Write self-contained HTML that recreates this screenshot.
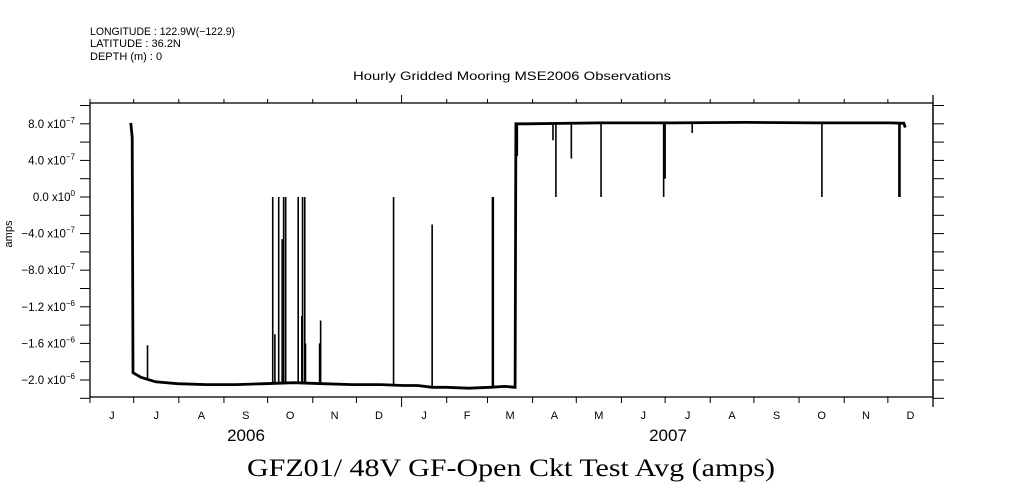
<!DOCTYPE html>
<html><head><meta charset="utf-8"><style>
html,body{margin:0;padding:0;background:#fff;}
svg{display:block;font-family:"Liberation Sans",sans-serif;}
</style></head><body>
<svg id="chart" width="1009" height="504" viewBox="0 0 1009 504" xmlns="http://www.w3.org/2000/svg">
<g font-size="11" fill="#000">
<text x="90" y="35" textLength="145" lengthAdjust="spacingAndGlyphs">LONGITUDE : 122.9W(−122.9)</text>
<text x="90" y="47">LATITUDE : 36.2N</text>
<text x="90" y="60">DEPTH (m) : 0</text>
</g>
<text x="353" y="80" textLength="318" lengthAdjust="spacingAndGlyphs" font-size="12">Hourly Gridded Mooring MSE2006 Observations</text>
<text x="0" y="0" transform="translate(12,234) rotate(-90)" text-anchor="middle" font-size="11">amps</text>
<g id="axes"></g>
<g id="marks"></g>
<text x="246" y="441" text-anchor="middle" font-size="17">2006</text>
<text x="668" y="441" text-anchor="middle" font-size="17">2007</text>
<text x="247" y="476" textLength="528" lengthAdjust="spacingAndGlyphs" font-size="25" font-family="'Liberation Serif',serif">GFZ01/ 48V GF-Open Ckt Test Avg (amps)</text>
</svg>
<script>
// data (days since 2006-06-01, values in amps)
const baseDays = [28,29,29.5,35,45,60,80,100,120,140,160,180,200,215,225,235,245,260,275,285,292,292.5,300,350,400,450,500,550,559,560];
const baseVals = [8.1e-7,6.5e-7,-1.92e-6,-1.97e-6,-2.02e-6,-2.04e-6,-2.05e-6,-2.05e-6,-2.04e-6,-2.03e-6,-2.04e-6,-2.05e-6,-2.05e-6,-2.06e-6,-2.06e-6,-2.08e-6,-2.08e-6,-2.09e-6,-2.08e-6,-2.07e-6,-2.08e-6,8.0e-7,8.0e-7,8.1e-7,8.1e-7,8.15e-7,8.1e-7,8.1e-7,8.05e-7,7.6e-7];
const spikeDays = [39.5,125.5,127,129.6,132,133,134.4,143,145.5,146,147.5,148,157.7,158.4,208.5,235,276.4,277,293.5,318,320,330.6,351,394,395,413.6,502.7,555.6,556.3];
const spikeVals = [-1.62e-6,0,-1.5e-6,0,-4.6e-7,0,0,0,-1.3e-6,0,0,-1.6e-6,-1.6e-6,-1.35e-6,0,-3e-7,0,0,4.5e-7,6.2e-7,0,4.2e-7,0,0,2e-7,7e-7,0,0,0];
const monthLabels = ["J","J","A","S","O","N","D","J","F","M","A","M","J","J","A","S","O","N","D"];
const monthStarts = [0,30,61,92,122,153,183,214,245,273,304,334,365,395,426,456,487,518,548,579];
const yTickVals = [8e-7,4e-7,0,-4e-7,-8e-7,-1.2e-6,-1.6e-6,-2.0e-6];
const yTickLabels = [["8.0","-7"],["4.0","-7"],["0.0","0"],["−4.0","-7"],["−8.0","-7"],["−1.2","-6"],["−1.6","-6"],["−2.0","-6"]];

const L=90,R=933,T=103,B=397;
const xS=d=>L+d*(R-L)/579;
const yS=v=>197-v*91.5e6;
const NS="http://www.w3.org/2000/svg";
function mk(tag,attrs,parent){const e=document.createElementNS(NS,tag);for(const k in attrs)e.setAttribute(k,attrs[k]);parent.appendChild(e);return e;}
const ax=document.getElementById('axes'), mg=document.getElementById('marks');
let f=mk('rect',{x:L,y:T,width:R-L,height:B-T,fill:'none',stroke:'#000','stroke-width':1.3},ax);


let rl=mk('line',{x1:R,y1:95,x2:R,y2:407,stroke:'#000','stroke-width':1.3},ax);


for(let i=-11;i<=5;i++){const v=i*2e-7,y=yS(v);
 const t1=mk('line',{x1:80,y1:y,x2:L,y2:y,stroke:'#000'},ax);
 
 
 const t2=mk('line',{x1:R,y1:y,x2:944,y2:y,stroke:'#000'},ax);
 
 }
yTickVals.forEach((v,i)=>{const t=mk('text',{x:75,y:yS(v)+4,'text-anchor':'end','font-size':11.5},ax);
 
 
 t.textContent=yTickLabels[i][0]+"  x10";
 const s=mk('tspan',{dy:-5,'font-size':8},t);s.textContent=yTickLabels[i][1].replace('-','−');});
monthStarts.forEach((d,i)=>{const x=xS(d),big=(d===214);
 const a=mk('line',{x1:x,y1:B,x2:x,y2:big?407:403,stroke:'#000'},ax);
 
 
 const b=mk('line',{x1:x,y1:T,x2:x,y2:big?95:99,stroke:'#000'},ax);
 
 
 if(i<monthLabels.length){const t=mk('text',{x:(x+xS(monthStarts[i+1]))/2,y:419,'text-anchor':'middle','font-size':11},ax);
  
  
  t.textContent=monthLabels[i];}});
let p='';baseDays.forEach((d,i)=>{p+=(i?'L':'M')+xS(d).toFixed(1)+' '+yS(baseVals[i]).toFixed(1);});
const ln=mk('path',{d:p,fill:'none',stroke:'#000','stroke-width':2.8},mg);


function baseAt(d){for(let i=1;i<baseDays.length;i++){if(d<=baseDays[i]){const t=(d-baseDays[i-1])/(baseDays[i]-baseDays[i-1]);return baseVals[i-1]+t*(baseVals[i]-baseVals[i-1]);}}return baseVals[baseVals.length-1];}
spikeDays.forEach((d,i)=>{const x=xS(d);
 const s=mk('line',{x1:x,y1:yS(baseAt(d)),x2:x,y2:yS(spikeVals[i]),stroke:'#000','stroke-width':1.6},mg);
 
 });
</script>
</body></html>
